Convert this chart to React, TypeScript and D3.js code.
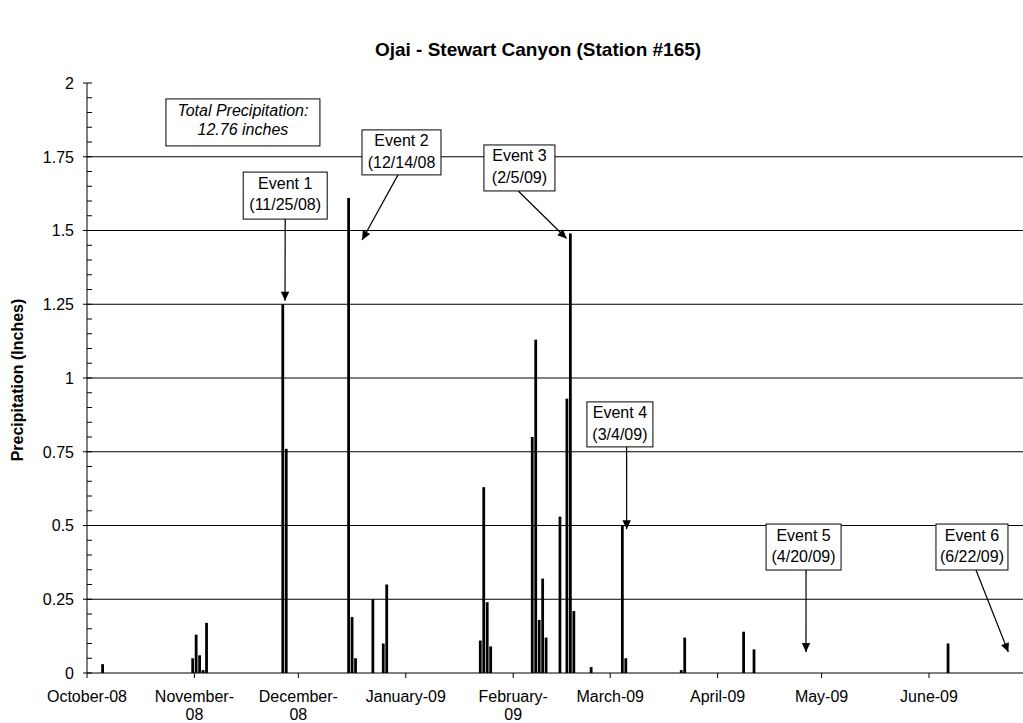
import React from "react";
import * as d3 from "d3";

// ---------- data ----------
const DATES = [
  "2008-10-05", "2008-10-31", "2008-11-01", "2008-11-02", "2008-11-03", "2008-11-04",
  "2008-11-26", "2008-11-27",
  "2008-12-15", "2008-12-16", "2008-12-17", "2008-12-22", "2008-12-25", "2008-12-26",
  "2009-01-22", "2009-01-23", "2009-01-24", "2009-01-25",
  "2009-02-06", "2009-02-07", "2009-02-08", "2009-02-09", "2009-02-10",
  "2009-02-14", "2009-02-16", "2009-02-17", "2009-02-18", "2009-02-23",
  "2009-03-04", "2009-03-05", "2009-03-21", "2009-03-22",
  "2009-04-08", "2009-04-11", "2009-06-06",
];
const PRECIP = [
  0.03, 0.05, 0.13, 0.06, 0.01, 0.17,
  1.25, 0.76,
  1.61, 0.19, 0.05, 0.25, 0.10, 0.30,
  0.11, 0.63, 0.24, 0.09,
  0.80, 1.13, 0.18, 0.32, 0.12,
  0.53, 0.93, 1.49, 0.21, 0.02,
  0.50, 0.05, 0.01, 0.12,
  0.14, 0.08, 0.10,
];
const MONTH_TICKS = [
  "2008-10-01", "2008-11-01", "2008-12-01", "2009-01-01", "2009-02-01",
  "2009-03-01", "2009-04-01", "2009-05-01", "2009-06-01",
];
const MONTH_LABELS = [
  ["October-08"], ["November-", "08"], ["December-", "08"], ["January-09"],
  ["February-", "09"], ["March-09"], ["April-09"], ["May-09"], ["June-09"],
];
const Y_TICKS = [0, 0.25, 0.5, 0.75, 1, 1.25, 1.5, 1.75, 2];
const Y_TICK_LABELS = ["0", "0.25", "0.5", "0.75", "1", "1.25", "1.5", "1.75", "2"];
const TITLE = "Ojai - Stewart Canyon (Station #165)";
const Y_TITLE = "Precipitation (Inches)";
const TOTAL_LINES = ["Total Precipitation:", "12.76 inches"];
const EVENT_LABELS = [
  ["Event 1", "(11/25/08)"],
  ["Event 2", "(12/14/08"],
  ["Event 3", "(2/5/09)"],
  ["Event 4", "(3/4/09)"],
  ["Event 5", "(4/20/09)"],
  ["Event 6", "(6/22/09)"],
];

// ---------- annotation layout (data units: days since Oct 1 2008, inches) ----------
const EVENT_LAYOUT = [
  { cx: 57.2, top: 1.698, w: 84, h: 47, tailDx: 0, tipDay: 57.15, tipVal: 1.262 },
  { cx: 90.76, top: 1.841, w: 79, h: 45, tailDx: -3.5, tipDay: 79.4, tipVal: 1.468 },
  { cx: 124.8, top: 1.790, w: 71, h: 46, tailDx: -1.2, tipDay: 138.4, tipVal: 1.473 },
  { cx: 153.8, top: 0.919, w: 66, h: 45, tailDx: 6.7, tipDay: 155.75, tipVal: 0.487 },
  { cx: 206.8, top: 0.505, w: 75, h: 46, tailDx: 2.5, tipDay: 207.5, tipVal: 0.071 },
  { cx: 255.4, top: 0.505, w: 72, h: 46, tailDx: 4, tipDay: 265.9, tipVal: 0.071 },
];
const TOTAL_LAYOUT = { cx: 45.0, top: 1.946, w: 154, h: 47 };

const W = 1023;
const H = 723;
const FONT = "'Liberation Sans', Arial, Helvetica, sans-serif";
const DAY = 864e5;

export default function App() {
  const parse = d3.utcParse("%Y-%m-%d");
  const start = parse("2008-10-01")!;
  const end = parse("2009-07-01")!;
  const nDays = (end.getTime() - start.getTime()) / DAY;
  const left = 87;
  const pxPerDay = 3.465;
  const x = d3.scaleUtc().domain([start, end]).range([left, left + nDays * pxPerDay]);
  const y = d3.scaleLinear().domain([0, 2]).range([673, 83]);
  const dayW = x(new Date(start.getTime() + DAY)) - x(start);
  const bw = dayW * 0.8;
  const xd = (d: number) => x(new Date(start.getTime() + d * DAY));

  const minorTicks = d3.range(0, 2.0001, 0.05);

  const arrowHead = (x1: number, y1: number, x2: number, y2: number) => {
    const dx = x2 - x1, dy = y2 - y1;
    const len = Math.hypot(dx, dy);
    const ux = dx / len, uy = dy / len;
    const L = 9, hw = 4.2;
    const bx = x2 - ux * L, by = y2 - uy * L;
    return `M${x2},${y2}L${bx - uy * hw},${by + ux * hw}L${bx + uy * hw},${by - ux * hw}Z`;
  };

  return (
    <svg
      width={W}
      height={H}
      style={{ position: "absolute", left: 0, top: 0, background: "#fff" }}
      fontFamily={FONT}
    >
      <rect x={0} y={0} width={W} height={H} fill="#fff" />
      <text x={538} y={56} textAnchor="middle" fontSize={19} fontWeight="bold">
        {TITLE}
      </text>
      <text
        transform={`translate(23,${380}) rotate(-90)`}
        textAnchor="middle"
        fontSize={16}
        fontWeight="bold"
      >
        {Y_TITLE}
      </text>

      {/* gridlines */}
      {Y_TICKS.filter((t) => t > 0 && t < 2).map((t) => (
        <line key={"g" + t} x1={left} x2={W} y1={y(t)} y2={y(t)} stroke="#000" strokeWidth={1} />
      ))}

      {/* bars */}
      {DATES.map((d, i) => {
        const dt = parse(d)!;
        const cx = x(dt) + dayW / 2;
        return (
          <rect
            key={d}
            x={cx - bw / 2}
            y={y(PRECIP[i])}
            width={bw}
            height={y(0) - y(PRECIP[i])}
            fill="#000"
          />
        );
      })}

      {/* y axis */}
      <line x1={left} x2={left} y1={y(2)} y2={y(0)} stroke="#000" strokeWidth={1} />
      {minorTicks.map((t) => (
        <line key={"m" + t} x1={left} x2={left + 5} y1={y(t)} y2={y(t)} stroke="#000" strokeWidth={1} />
      ))}
      {Y_TICKS.map((t, i) => (
        <g key={"y" + t}>
          <line x1={left - 4} x2={left} y1={y(t)} y2={y(t)} stroke="#000" strokeWidth={1} />
          <text x={74} y={y(t)} dy="0.36em" textAnchor="end" fontSize={16}>
            {Y_TICK_LABELS[i]}
          </text>
        </g>
      ))}

      {/* x axis */}
      <line x1={left} x2={W} y1={y(0)} y2={y(0)} stroke="#000" strokeWidth={1} />
      {MONTH_TICKS.map((m, i) => {
        const tx = x(parse(m)!);
        return (
          <g key={m}>
            <line x1={tx} x2={tx} y1={y(0)} y2={y(0) + 5} stroke="#000" strokeWidth={1} />
            {MONTH_LABELS[i].map((ln, j) => (
              <text key={j} x={tx} y={701.5 + j * 18} textAnchor="middle" fontSize={16}>
                {ln}
              </text>
            ))}
          </g>
        );
      })}

      {/* total precipitation box */}
      <g>
        <rect
          x={xd(TOTAL_LAYOUT.cx) - TOTAL_LAYOUT.w / 2}
          y={y(TOTAL_LAYOUT.top)}
          width={TOTAL_LAYOUT.w}
          height={TOTAL_LAYOUT.h}
          fill="#fff"
          stroke="#000"
        />
        {TOTAL_LINES.map((ln, j) => (
          <text
            key={j}
            x={xd(TOTAL_LAYOUT.cx)}
            y={y(TOTAL_LAYOUT.top) + 17 + j * 19.5}
            textAnchor="middle"
            fontSize={16}
            fontStyle="italic"
          >
            {ln}
          </text>
        ))}
      </g>

      {/* event annotations */}
      {EVENT_LAYOUT.map((a, i) => {
        const cx = xd(a.cx);
        const top = y(a.top);
        const x1 = cx + a.tailDx;
        const y1 = top + a.h;
        const x2 = xd(a.tipDay);
        const y2 = y(a.tipVal);
        return (
          <g key={"e" + i}>
            <line x1={x1} y1={y1} x2={x2} y2={y2} stroke="#000" strokeWidth={1.2} />
            <path d={arrowHead(x1, y1, x2, y2)} fill="#000" />
            <rect x={cx - a.w / 2} y={top} width={a.w} height={a.h} fill="#fff" stroke="#000" />
            {EVENT_LABELS[i].map((ln, j) => (
              <text key={j} x={cx} y={top + 16.5 + j * 21.5} textAnchor="middle" fontSize={16}>
                {ln}
              </text>
            ))}
          </g>
        );
      })}
    </svg>
  );
}
